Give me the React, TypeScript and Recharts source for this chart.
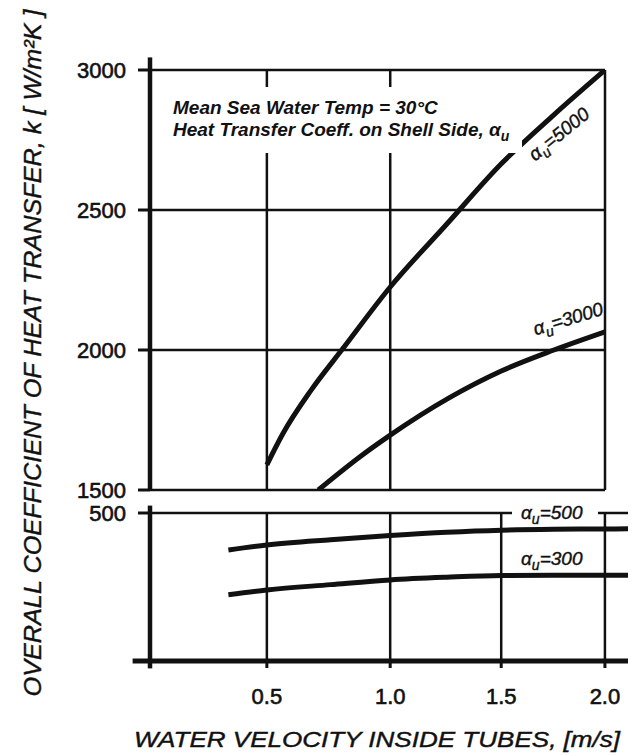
import React from 'react';
import { LineChart, Line, XAxis, YAxis, CartesianGrid, ReferenceLine } from 'recharts';

// the velocity axis of the original nomogram is spaced like v^0.8
const EXP = 0.8;
const toAxis = (v: number) => Math.pow(v, EXP);
const fromAxis = (p: number) => Math.pow(p, 1 / EXP);

const velocityTicks = [0.5, 1.0, 1.5, 2.0];
const velocityStart = 0.11;
const velocityEndUpper = 2.0;
const velocityEndLower = 2.115;

const upperTicks = [1500, 2000, 2500, 3000];
const lowerTicks = [500];

// k [W/m2K] against water velocity v [m/s]
const alpha5000 = [
  { v: 0.5, k: 1590 },
  { v: 0.56, k: 1700 },
  { v: 0.67, k: 1855 },
  { v: 0.8, k: 2005 },
  { v: 1.0, k: 2225 },
  { v: 1.25, k: 2450 },
  { v: 1.5, k: 2665 },
  { v: 1.75, k: 2840 },
  { v: 2.0, k: 3000 },
];

const alpha3000 = [
  { v: 0.7, k: 1500 },
  { v: 0.87, k: 1618 },
  { v: 1.0, k: 1696 },
  { v: 1.26, k: 1829 },
  { v: 1.5, k: 1925 },
  { v: 1.75, k: 2000 },
  { v: 2.0, k: 2065 },
];

const alpha500 = [
  { v: 0.36, k: 375 },
  { v: 0.5, k: 392 },
  { v: 0.75, k: 410 },
  { v: 1.0, k: 424 },
  { v: 1.25, k: 435 },
  { v: 1.5, k: 442 },
  { v: 1.75, k: 445 },
  { v: 2.0, k: 446 },
  { v: 2.12, k: 447 },
];

const alpha300 = [
  { v: 0.36, k: 224 },
  { v: 0.5, k: 240 },
  { v: 0.75, k: 258 },
  { v: 1.0, k: 274 },
  { v: 1.25, k: 283 },
  { v: 1.5, k: 289 },
  { v: 1.75, k: 290 },
  { v: 2.0, k: 290 },
  { v: 2.12, k: 290 },
];

const INK = '#111';
const FONT = '"Liberation Sans", Arial, sans-serif';
const xKey = (d: any) => toAxis(d.v);
const gridX = velocityTicks.map(toAxis);
const x0 = toAxis(velocityStart);

const tickStyle = { fill: INK, stroke: INK, strokeWidth: 0.6, fontSize: 22, fontFamily: FONT };

const Alpha = ({ value }: { value: string }) => (
  <>
    <tspan>α</tspan>
    <tspan dy={5} fontSize={14}>u</tspan>
    <tspan dy={-5}>={value}</tspan>
  </>
);

const curve = (data: any[], key: string) => (
  <Line
    key={key}
    data={data}
    dataKey="k"
    type="monotone"
    stroke={INK}
    strokeWidth={5}
    dot={false}
    activeDot={false}
    isAnimationActive={false}
  />
);

export default function App() {
  return (
    <div style={{ position: 'absolute', left: 0, top: 0, width: 632, height: 756, background: '#fff' }}>
      <div style={{ position: 'absolute', left: 0, top: 0 }}>
        <LineChart width={632} height={504} margin={{ top: 70, right: 27, bottom: 14, left: 90 }}>
          <CartesianGrid
            stroke={INK}
            strokeWidth={2.5}
            horizontalValues={upperTicks}
            verticalValues={gridX}
          />
          <XAxis
            hide
            type="number"
            dataKey={xKey}
            domain={[x0, toAxis(velocityEndUpper)]}
            ticks={gridX}
            allowDataOverflow
          />
          <YAxis
            width={60}
            type="number"
            domain={[1500, 3000]}
            ticks={upperTicks}
            interval={0}
            allowDataOverflow
            tick={tickStyle}
            tickSize={12}
            tickMargin={12}
            tickLine={{ stroke: INK, strokeWidth: 3 }}
            axisLine={{ stroke: INK, strokeWidth: 4.5 }}
          />
          <ReferenceLine
            segment={[{ x: x0, y: 3000 }, { x: x0, y: 3045 }]}
            stroke={INK}
            strokeWidth={4.5}
            ifOverflow="visible"
          />
          {curve(alpha5000, 'a5000')}
          {curve(alpha3000, 'a3000')}
        </LineChart>
      </div>

      <div style={{ position: 'absolute', left: 0, top: 500 }}>
        <LineChart width={632} height={256} margin={{ top: 13, right: 4, bottom: 55, left: 90 }}>
          <CartesianGrid
            stroke={INK}
            strokeWidth={2.5}
            horizontalValues={lowerTicks}
            verticalValues={gridX}
          />
          <XAxis
            type="number"
            dataKey={xKey}
            domain={[x0, toAxis(velocityEndLower)]}
            ticks={gridX}
            interval={0}
            allowDataOverflow
            height={40}
            tick={tickStyle}
            tickFormatter={(p: number) => fromAxis(p).toFixed(1)}
            tickSize={7}
            tickMargin={20}
            tickLine={{ stroke: INK, strokeWidth: 3 }}
            axisLine={{ stroke: INK, strokeWidth: 5 }}
          />
          <YAxis
            width={60}
            type="number"
            domain={[0, 500]}
            ticks={lowerTicks}
            interval={0}
            allowDataOverflow
            tick={tickStyle}
            tickSize={12}
            tickMargin={12}
            tickLine={{ stroke: INK, strokeWidth: 3 }}
            axisLine={{ stroke: INK, strokeWidth: 4.5 }}
          />
          <ReferenceLine
            segment={[{ x: x0, y: 500 }, { x: x0, y: 525 }]}
            stroke={INK}
            strokeWidth={4.5}
            ifOverflow="visible"
          />
          <ReferenceLine
            segment={[{ x: x0, y: 0 }, { x: x0, y: -25 }]}
            stroke={INK}
            strokeWidth={4.5}
            ifOverflow="visible"
          />
          <ReferenceLine
            segment={[{ x: x0 - 0.06, y: 0 }, { x: x0, y: 0 }]}
            stroke={INK}
            strokeWidth={5}
            ifOverflow="visible"
          />
          {curve(alpha500, 'a500')}
          {curve(alpha300, 'a300')}
        </LineChart>
      </div>

      <svg
        width={632}
        height={756}
        style={{ position: 'absolute', left: 0, top: 0, pointerEvents: 'none' }}
        fontFamily={FONT}
        fill={INK}
      >
        {/* paper gaps in the grid behind the lettering */}
        <rect x={160} y={87} width={300} height={66} fill="#fff" />
        <rect x={460} y={121} width={62} height={32} fill="#fff" />
        <rect x={512} y={504} width={86} height={18} fill="#fff" />

        <text x={173} y={114} fontSize={19} fontStyle="italic" fontWeight="bold">
          Mean Sea Water Temp = 30°C
        </text>
        <text x={173} y={136} fontSize={19} fontStyle="italic" fontWeight="bold">
          Heat Transfer Coeff. on Shell Side, <tspan>α</tspan>
          <tspan dy={5} fontSize={14}>u</tspan>
        </text>

        <g stroke={INK} strokeWidth={0.4}>
          <text
            transform="translate(563,139) rotate(-39)"
            textAnchor="middle"
            fontSize={19}
            fontStyle="italic"
          >
            <Alpha value="5000" />
          </text>
          <text
            transform="translate(570,325) rotate(-17)"
            textAnchor="middle"
            fontSize={19}
            fontStyle="italic"
          >
            <Alpha value="3000" />
          </text>
          <text x={521} y={519} fontSize={19} fontStyle="italic">
            <Alpha value="500" />
          </text>
          <text x={521} y={565} fontSize={19} fontStyle="italic">
            <Alpha value="300" />
          </text>

          <text
            transform="translate(41,353) rotate(-90)"
            textAnchor="middle"
            fontSize={24}
            fontStyle="italic"
            textLength={687}
            lengthAdjust="spacingAndGlyphs"
          >
            OVERALL COEFFICIENT OF HEAT TRANSFER, k [ W/m²K ]
          </text>
          <text
            x={377}
            y={747}
            textAnchor="middle"
            fontSize={22}
            fontStyle="italic"
            textLength={486}
            lengthAdjust="spacingAndGlyphs"
          >
            WATER VELOCITY INSIDE TUBES, [m/s]
          </text>
        </g>
      </svg>
    </div>
  );
}
